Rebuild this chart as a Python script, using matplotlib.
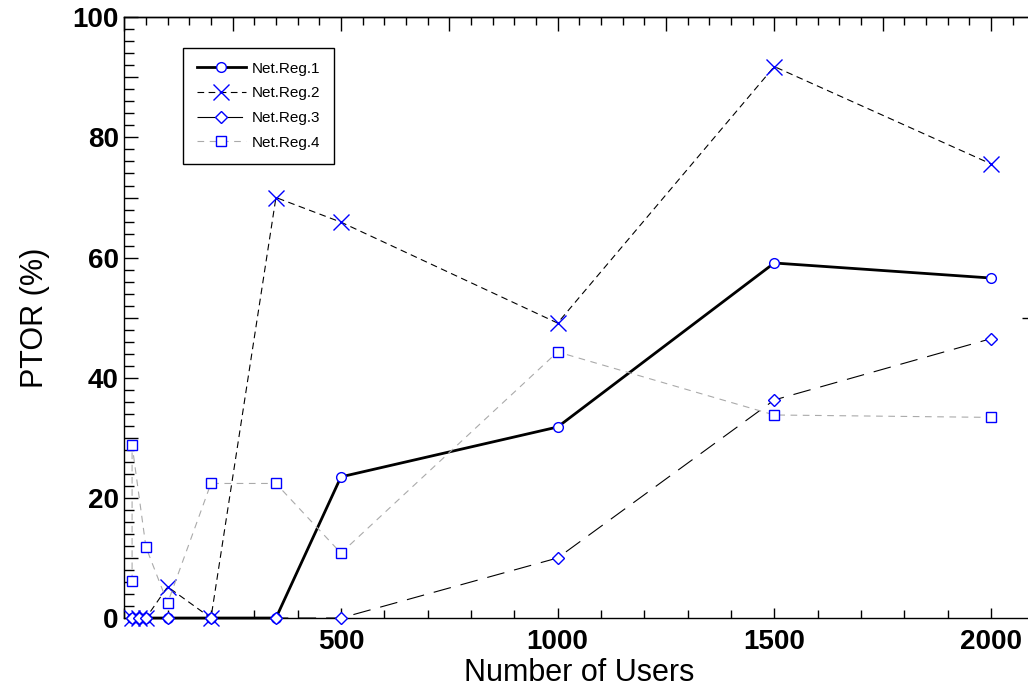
import matplotlib
matplotlib.use("Agg")
import matplotlib.pyplot as plt
from matplotlib.ticker import MultipleLocator, FixedLocator, FuncFormatter, NullFormatter

plt.rcParams['font.family'] = ['Liberation Sans', 'DejaVu Sans']

# data
users = [17, 34, 50, 100, 200, 350, 500, 1000, 1500, 2000]
reg1 = [0, 0, 0, 0, 0, 0, 23.5, 31.8, 59.1, 56.6]
reg2 = [0, 0, 0, 5.2, 0, 70.0, 65.9, 49.1, 91.8, 75.6]
reg3 = [0, 0, 0, 0, 0, 0, 0, 10.0, 36.3, 46.5]
users4 = [18, 18, 50, 100, 200, 350, 500, 1000, 1500, 2000]
reg4 = [6.1, 28.8, 11.8, 2.5, 22.4, 22.4, 10.8, 44.3, 33.8, 33.4]

fig = plt.figure(figsize=(10.28, 6.89), dpi=100, facecolor='white')
ax = fig.add_axes([0.1209, 0.1030, 0.8852, 0.8719])

blue = '#0000FF'
ax.plot(users, reg1, color='black', lw=2.0, marker='o', ms=7, mfc='white',
        mec=blue, mew=1.0, label='Net.Reg.1', clip_on=False, zorder=3)
ax.plot(users, reg2, color='black', lw=0.8, ls=(0, (6, 4)), marker='x', ms=12,
        mec=blue, mew=1.0, label='Net.Reg.2', clip_on=False, zorder=3)
ax.plot(users, reg3, color='black', lw=0.8, ls=(0, (16, 9)), marker='D', ms=6.5,
        mfc='white', mec=blue, mew=1.0, label='Net.Reg.3', clip_on=False, zorder=3)
ax.plot(users4, reg4, color='#AAAAAA', lw=0.8, ls=(0, (6, 5)), marker='s', ms=6.5,
        mfc='white', mec=blue, mew=1.0, label='Net.Reg.4', clip_on=False, zorder=3)

ax.set_xlim(0, 2100)
ax.set_ylim(0, 100)

for s in ['left', 'bottom', 'top']:
    ax.spines[s].set_linewidth(1.0)
ax.spines['right'].set_visible(False)

# bottom axis
ax.xaxis.set_major_locator(MultipleLocator(500))
ax.xaxis.set_minor_locator(MultipleLocator(100))
ax.xaxis.set_major_formatter(FuncFormatter(lambda v, p: '' if v == 0 else '%d' % v))
# left axis
ax.yaxis.set_major_locator(MultipleLocator(10))
ax.yaxis.set_minor_locator(MultipleLocator(2))
ax.yaxis.set_major_formatter(FuncFormatter(lambda v, p: '%d' % v if int(round(v)) % 20 == 0 else ''))

ax.tick_params(which='both', direction='in', top=False, right=False, width=1.0)
ax.tick_params(axis='x', which='major', length=7, pad=8)
ax.tick_params(axis='x', which='minor', length=6)
ax.tick_params(axis='y', which='major', length=10, pad=4)
ax.tick_params(axis='y', which='minor', length=7)
for lab in ax.get_xticklabels() + ax.get_yticklabels():
    lab.set_fontsize(20)
    lab.set_fontweight('bold')

# top axis ticks without labels
top = ax.secondary_xaxis('top')
top.xaxis.set_major_locator(MultipleLocator(250))
top.xaxis.set_minor_locator(MultipleLocator(50))
top.xaxis.set_major_formatter(NullFormatter())
top.tick_params(which='both', direction='in', width=1.0)
top.tick_params(which='major', length=10)
top.tick_params(which='minor', length=6)
top.spines['top'].set_linewidth(1.0)

# single tick on the right side
right = ax.secondary_yaxis('right')
right.yaxis.set_major_locator(FixedLocator([50]))
right.yaxis.set_minor_locator(FixedLocator([]))
right.yaxis.set_major_formatter(NullFormatter())
right.tick_params(which='major', direction='in', length=9, width=1.0)

ax.set_xlabel('Number of Users', fontsize=22, labelpad=2)
ax.set_ylabel('PTOR (%)', fontsize=22, labelpad=16)

leg = ax.legend(loc='upper left', bbox_to_anchor=(0.0645, 0.949), borderaxespad=0,
                fontsize=11, handlelength=3.2, handletextpad=0.4, labelspacing=0.7,
                borderpad=0.9, numpoints=1, fancybox=False, framealpha=1)
leg.get_frame().set_edgecolor('black')
leg.get_frame().set_linewidth(1.0)

fig.savefig('out.png', dpi=100, facecolor='white')
